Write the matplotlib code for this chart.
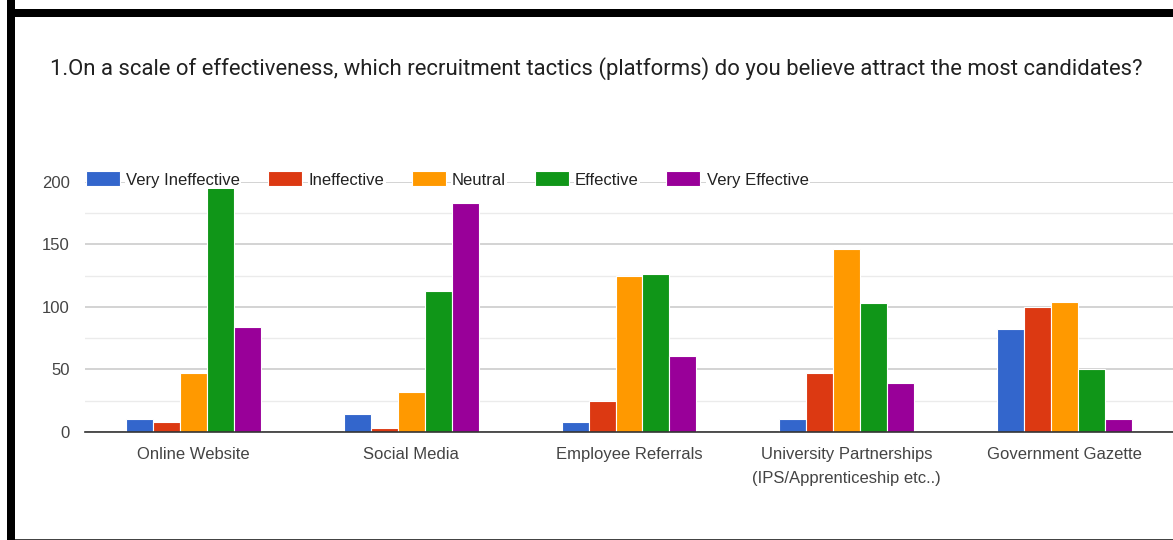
import matplotlib
matplotlib.use("Agg")
import matplotlib.pyplot as plt
from matplotlib.patches import Rectangle
from matplotlib.ticker import MultipleLocator
import numpy as np

categories = ["Online Website", "Social Media", "Employee Referrals",
              "University Partnerships\n(IPS/Apprenticeship etc..)", "Government Gazette"]
series_names = ["Very Ineffective", "Ineffective", "Neutral", "Effective", "Very Effective"]
very_ineffective = [10, 14, 8, 10, 82]
ineffective = [8, 3, 25, 47, 100]
neutral = [47, 32, 125, 146, 104]
effective = [197, 113, 126, 103, 50]
very_effective = [84, 183, 61, 39, 10]
yticks = [0, 50, 100, 150, 200]
title = ("1.On a scale of effectiveness, which recruitment tactics (platforms) "
         "do you believe attract the most candidates?")

colors = ["#3366cc", "#dc3912", "#ff9900", "#109618", "#990099"]
series = [very_ineffective, ineffective, neutral, effective, very_effective]

W, H = 1173, 540
fig = plt.figure(figsize=(W / 100, H / 100), dpi=100)
fig.patch.set_facecolor("white")

def fx(px):
    return px / W

def fy(py):
    return 1 - py / H

ax_left, ax_right, ax_top, ax_bottom = 85, 1173, 181.7, 432
ax = fig.add_axes([fx(ax_left), fy(ax_bottom), fx(ax_right - ax_left), (ax_bottom - ax_top) / H])

n = len(series)
slot = 0.124
x = np.arange(len(categories))
for i, (vals, c) in enumerate(zip(series, colors)):
    offs = (i - (n - 1) / 2) * slot
    ax.bar(x + offs, vals, width=slot, color=c, edgecolor="white", linewidth=0.8, zorder=3)

ax.set_xlim(-0.5, len(categories) - 0.5)
ax.set_ylim(0, 200)
ax.set_yticks(yticks)
ax.yaxis.set_minor_locator(MultipleLocator(25))
ax.grid(axis="y", which="major", color="#cccccc", linewidth=1.2, zorder=0)
ax.grid(axis="y", which="minor", color="#ebebeb", linewidth=1.0, zorder=0)
ax.set_axisbelow(True)
for s in ["top", "right", "left"]:
    ax.spines[s].set_visible(False)
ax.spines["bottom"].set_color("#333333")
ax.spines["bottom"].set_linewidth(1.2)
ax.spines["bottom"].set_zorder(4)

label_size = 12.0
ax.set_xticks(x)
ax.set_xticklabels(categories, fontfamily="Liberation Sans", fontsize=label_size,
                   color="#444444", linespacing=1.75)
ax.tick_params(axis="x", length=0, pad=10.5)
ax.tick_params(axis="y", which="both", length=0, pad=11, labelsize=label_size,
               labelcolor="#444444")
for lab in ax.get_yticklabels():
    lab.set_fontfamily("Liberation Sans")

# Title
fig.text(fx(50), fy(68.5), title, fontfamily="Roboto", fontsize=15.9,
         color="#212121", ha="left", va="center")

# Legend row laid over the top gridline
legend_items = [(86, 126), (268, 309), (412, 452), (535, 575), (666, 707)]
leg_y = 178
for (sx, tx), name, c in zip(legend_items, series_names, colors):
    fig.add_artist(Rectangle((fx(sx), fy(leg_y + 7.5)), fx(34), 15 / H,
                             transform=fig.transFigure, facecolor=c,
                             edgecolor="white", linewidth=0.8, zorder=5))
    fig.text(fx(tx), fy(leg_y + 1), name, fontfamily="Liberation Sans", fontsize=label_size,
             color="#222222", ha="left", va="center_baseline", zorder=5,
             bbox=dict(facecolor="white", edgecolor="none", pad=1.0))

# Frame around the card
fig.add_artist(Rectangle((fx(7), 0), fx(8), 1, transform=fig.transFigure,
                         facecolor="black", edgecolor="none", zorder=6))
fig.add_artist(Rectangle((fx(7), fy(17)), 1, 8 / H, transform=fig.transFigure,
                         facecolor="black", edgecolor="none", zorder=6))
fig.add_artist(Rectangle((fx(15), 0), 1, 1.5 / H, transform=fig.transFigure,
                         facecolor="#444444", edgecolor="none", zorder=6))

fig.savefig("out.png", dpi=100, facecolor="white")
